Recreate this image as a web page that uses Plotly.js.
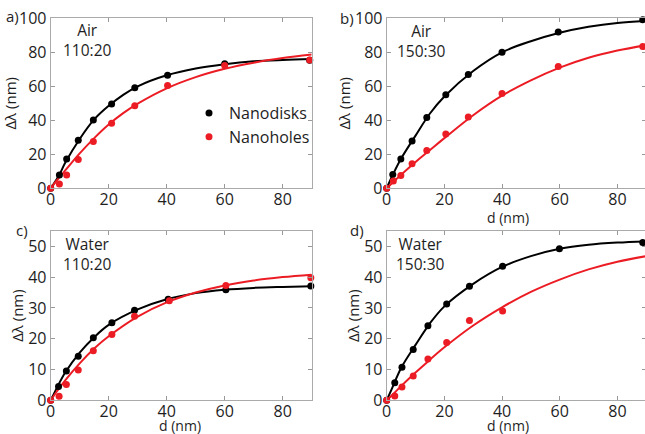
<!DOCTYPE html>
<html>
<head>
<meta charset="utf-8">
<script src="https://cdn.plot.ly/plotly-3.0.1.min.js"></script>
<style>
html, body { margin: 0; padding: 0; overflow: hidden; background: #fff; }
#chart { width: 650px; height: 434px; }
</style>
</head>
<body>
<div id="chart"></div>
<script>
// ---- Data ----
// Panel a) Air 110:20
const aDiskX = [0, 3, 5.5, 9.5, 14.7, 21, 29, 40.3, 60, 89.3];
const aDiskY = [0, 7.8, 17.3, 28.2, 40.2, 49.6, 59.2, 66.5, 73.3, 75.3];
const aHoleX = [0, 3, 5.5, 9.5, 14.7, 21, 29, 40.3, 60, 89.3];
const aHoleY = [0, 2.5, 7.8, 17, 27.5, 38.2, 48.6, 60.4, 72.2, 75.5];
const aFitX = [0, 3, 5, 10, 15, 20, 25, 30, 40, 50, 60, 70, 80, 90];
const aDiskFit = [0, 8, 15, 29, 40.5, 48.5, 55, 60, 66.5, 70.5, 73, 74.7, 75.5, 76];
const aHoleFit = [0, 6.5, 10.5, 20.5, 29.5, 37.5, 44.2, 49.8, 58.8, 65.4, 70.3, 73.9, 76.6, 78.7];

// Panel b) Air 150:30
const bDiskX = [0, 2.1, 4.9, 8.8, 13.9, 20.5, 28.3, 40, 59.5, 88.8];
const bDiskY = [0, 8.1, 17.2, 27.8, 41.6, 55, 66.9, 80.1, 91.9, 99.2];
const bHoleX = [0, 2.3, 4.9, 8.8, 13.9, 20.5, 28.3, 40, 59.5, 88.8];
const bHoleY = [0, 4.3, 7.5, 14.4, 22.3, 32, 42, 55.8, 71.6, 83.4];
const bFitX = [0, 2, 5, 10, 15, 20, 30, 40, 50, 60, 70, 80, 90];
const bDiskFit = [0, 7.5, 17.5, 31, 44, 54, 69, 80, 86.5, 91.5, 95, 97.3, 98.5];
const bHoleFit = [0, 3.3, 8, 15.5, 22.5, 29.5, 43, 54.5, 63.5, 71, 76.8, 81, 84.2];

// Panel c) Water 110:20
const cDiskX = [0, 2.7, 5.4, 9.5, 14.7, 21.1, 28.9, 40.5, 60.4, 89.7];
const cDiskY = [0, 4.5, 9.5, 14.3, 20.3, 25.2, 29.2, 32.8, 35.9, 37.1];
const cHoleX = [0, 2.9, 5.4, 9.5, 14.7, 21.1, 28.9, 40.9, 60.4, 89.7];
const cHoleY = [0, 1.3, 5.1, 9.8, 16.1, 21.4, 27.3, 32.3, 37.3, 39.8];
const cFitX = [0, 2, 5, 10, 15, 20, 30, 40, 50, 60, 70, 80, 90];
const cDiskFit = [0, 3.8, 9, 15.5, 20.5, 24.5, 29.5, 32.8, 34.8, 35.9, 36.5, 36.8, 37.0];
const cHoleFit = [0, 2.7, 6.5, 12, 16.8, 20.8, 27.2, 31.8, 35, 37.3, 38.9, 40, 40.8];

// Panel d) Water 150:30
const dDiskX = [0, 2.8, 5.3, 9.2, 14.3, 20.8, 28.7, 40.2, 59.9, 88.8];
const dDiskY = [0, 5.7, 10.7, 16.5, 24.2, 31.3, 37, 43.5, 49.2, 51.2];
const dHoleX = [0, 2.8, 5.3, 9.2, 14.3, 20.8, 28.7, 40.2];
const dHoleY = [0, 1.4, 4.3, 7.9, 13.4, 18.8, 25.9, 29];
const dFitX = [0, 2, 5, 10, 15, 20, 30, 40, 50, 60, 70, 80, 90];
const dDiskFit = [0, 4.2, 10.5, 18, 25, 30.5, 37.8, 43.3, 46.8, 49.2, 50.5, 51.2, 51.6];
const dHoleFit = [0, 1.8, 4.6, 9, 13.2, 17.2, 24.3, 30.2, 35.2, 39.2, 42.5, 45, 46.8];

const seriesNames = ['Nanodisks', 'Nanoholes'];
const panelLabels = ['a)', 'b)', 'c)', 'd)'];
const panelMedium = ['Air', 'Air', 'Water', 'Water'];
const panelRatio = ['110:20', '150:30', '110:20', '150:30'];
const xTitle = 'd (nm)';
const yTitle = 'Δλ (nm)';

// ---- Styling ----
const W = 650, H = 434;
const FONT = '"Open Sans", "Noto Sans", Arial, sans-serif';
const BLACK = '#000000', RED = '#ec1c24';
const TXT = '#1e1e1e';
const px = v => v / W;
const py = v => 1 - v / H;

const panels = [
  {xa: 'x', ya: 'y', dx: aDiskX, dy: aDiskY, hx: aHoleX, hy: aHoleY, fx: aFitX, fd: aDiskFit, fh: aHoleFit},
  {xa: 'x2', ya: 'y2', dx: bDiskX, dy: bDiskY, hx: bHoleX, hy: bHoleY, fx: bFitX, fd: bDiskFit, fh: bHoleFit},
  {xa: 'x3', ya: 'y3', dx: cDiskX, dy: cDiskY, hx: cHoleX, hy: cHoleY, fx: cFitX, fd: cDiskFit, fh: cHoleFit},
  {xa: 'x4', ya: 'y4', dx: dDiskX, dy: dDiskY, hx: dHoleX, hy: dHoleY, fx: dFitX, fd: dDiskFit, fh: dHoleFit},
];

const traces = [];
panels.forEach((p, i) => {
  traces.push({x: p.fx, y: p.fd, xaxis: p.xa, yaxis: p.ya, type: 'scatter', mode: 'lines',
    line: {color: BLACK, width: 2, shape: 'spline', smoothing: 1}, showlegend: false, hoverinfo: 'skip'});
  traces.push({x: p.fx, y: p.fh, xaxis: p.xa, yaxis: p.ya, type: 'scatter', mode: 'lines',
    line: {color: RED, width: 2, shape: 'spline', smoothing: 1}, showlegend: false, hoverinfo: 'skip'});
  traces.push({x: p.dx, y: p.dy, xaxis: p.xa, yaxis: p.ya, type: 'scatter', mode: 'markers',
    name: seriesNames[0], marker: {color: BLACK, size: 7}, cliponaxis: false, showlegend: i === 0});
  traces.push({x: p.hx, y: p.hy, xaxis: p.xa, yaxis: p.ya, type: 'scatter', mode: 'markers',
    name: seriesNames[1], marker: {color: RED, size: 7}, cliponaxis: false, showlegend: i === 0});
});

const xDomL = [px(50.7), px(311.7)];
const xDomR = [px(386.7), px(646.2)];
const yDomT = [py(188.3), py(18.3)];
const yDomB = [py(400.3), py(230.9)];

function xAxis(dom, anchor) {
  return {domain: dom, anchor: anchor, range: [0, 90], dtick: 20, tick0: 0,
    ticks: 'inside', ticklen: 4, tickcolor: '#999', showline: true, linecolor: '#aaa', linewidth: 1,
    mirror: 'ticks', showgrid: false, zeroline: false, automargin: false, ticklabelstandoff: -4,
    tickfont: {family: FONT, size: 16, color: TXT}, title: {text: ''}};
}
function yAxis(dom, anchor, range, dtick) {
  return {domain: dom, anchor: anchor, range: range, dtick: dtick, tick0: 0,
    ticks: 'inside', ticklen: 4, tickcolor: '#999', showline: true, linecolor: '#aaa', linewidth: 1,
    mirror: 'ticks', showgrid: false, zeroline: false, automargin: false,
    tickfont: {family: FONT, size: 16, color: TXT},
    title: {text: yTitle, font: {family: FONT, size: 15, color: TXT}, standoff: 0}};
}

const labelPos = [[12, 16], [347, 18], [22, 230], [357, 230]];
const infoPos = [[87, 40], [421, 41.5], [87, 253.5], [420, 253.5]];
const xTitlePos = [[508, 217], [180, 425], [508, 425]];
const annotations = [];
for (let i = 0; i < 4; i++) {
  annotations.push({text: panelLabels[i], xref: 'paper', yref: 'paper', x: px(labelPos[i][0]), y: py(labelPos[i][1]),
    showarrow: false, font: {family: FONT, size: 15, color: TXT}, xanchor: 'center', yanchor: 'middle'});
  annotations.push({text: panelMedium[i] + '<br>' + panelRatio[i], xref: 'paper', yref: 'paper',
    x: px(infoPos[i][0]), y: py(infoPos[i][1]), align: 'center',
    showarrow: false, font: {family: FONT, size: 15.5, color: TXT}, xanchor: 'center', yanchor: 'middle'});
}
xTitlePos.forEach(p => {
  annotations.push({text: xTitle, xref: 'paper', yref: 'paper', x: px(p[0]), y: py(p[1]),
    showarrow: false, font: {family: FONT, size: 14, color: TXT}, xanchor: 'center', yanchor: 'middle'});
});

const layout = {
  width: W, height: H,
  margin: {l: 0, r: 0, t: 0, b: 0},
  paper_bgcolor: '#fff', plot_bgcolor: '#fff',
  font: {family: FONT, color: TXT},
  xaxis: xAxis(xDomL, 'y'),
  yaxis: yAxis(yDomT, 'x', [0, 100], 20),
  xaxis2: xAxis(xDomR, 'y2'),
  yaxis2: yAxis(yDomT, 'x2', [0, 100], 20),
  xaxis3: xAxis(xDomL, 'y3'),
  yaxis3: yAxis(yDomB, 'x3', [0, 55], 10),
  xaxis4: xAxis(xDomR, 'y4'),
  yaxis4: yAxis(yDomB, 'x4', [0, 55], 10),
  showlegend: true,
  legend: {x: px(189), y: py(96), xanchor: 'left', yanchor: 'top', bgcolor: 'rgba(0,0,0,0)',
    font: {family: FONT, size: 16, color: TXT}, itemwidth: 30, tracegroupgap: 0},
  annotations: annotations
};

Plotly.newPlot('chart', traces, layout, {displayModeBar: false, staticPlot: true});
</script>
</body>
</html>
